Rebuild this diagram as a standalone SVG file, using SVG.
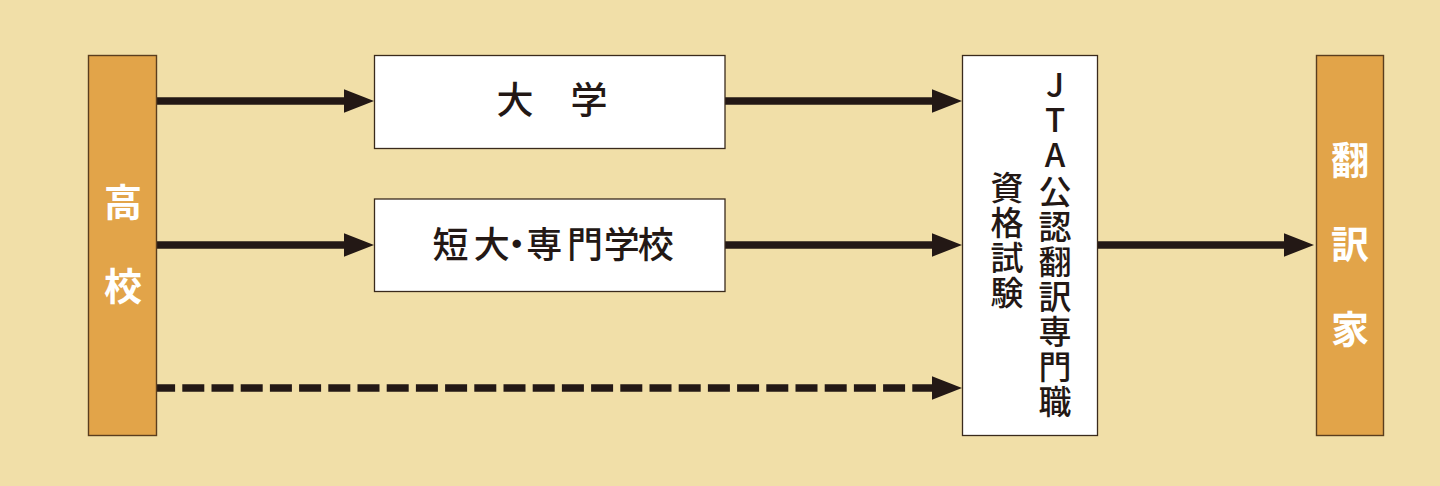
<svg xmlns="http://www.w3.org/2000/svg" width="1440" height="486" viewBox="0 0 1440 486">
<defs>
<style>
.bg{fill:#F1DFA8}
.side{fill:#E2A449;stroke:#5A3D1E;stroke-width:1.4}
.box{fill:#FFFFFF;stroke:#3A2A1C;stroke-width:1.3}
.conn{stroke:#231815;stroke-width:7.6;fill:none}
.dash{stroke-dasharray:22 7.2;stroke-dashoffset:3.9}
.lbl{font-family:"Noto Sans CJK JP","Noto Sans",sans-serif;fill:#231815;text-anchor:middle;font-weight:500}
.wlbl{font-family:"Noto Sans CJK JP","Noto Sans",sans-serif;fill:#FFFFFF;font-weight:bold;text-anchor:middle;font-size:38px}
.vt{font-size:33px}
</style>
<marker id="ah" markerUnits="userSpaceOnUse" viewBox="0 0 30 23.4" markerWidth="30" markerHeight="23.4" refX="2" refY="11.7" orient="auto">
<path d="M0,0 L30,11.7 L0,23.4 Z" fill="#231815"/>
</marker>
</defs>
<rect class="bg" x="0" y="0" width="1440" height="486"/>
<g id="connectors">
<line class="conn" x1="156" y1="101" x2="346" y2="101" marker-end="url(#ah)"/>
<line class="conn" x1="156" y1="245" x2="346" y2="245" marker-end="url(#ah)"/>
<line class="conn" x1="725" y1="101" x2="934" y2="101" marker-end="url(#ah)"/>
<line class="conn" x1="725" y1="245" x2="934" y2="245" marker-end="url(#ah)"/>
<line class="conn dash" x1="157" y1="388" x2="934" y2="388" marker-end="url(#ah)"/>
<line class="conn" x1="1097" y1="245" x2="1286" y2="245" marker-end="url(#ah)"/>
</g>
<g id="koukou">
<rect class="side" x="88.5" y="55.5" width="68" height="380"/>
<text class="wlbl"><tspan x="123" y="216">高</tspan><tspan x="123" y="300">校</tspan></text>
</g>
<g id="daigaku">
<rect class="box" x="374.5" y="55.5" width="350.5" height="93"/>
<text class="lbl" x="552" y="114" font-size="37">大　学</text>
</g>
<g id="tandai">
<rect class="box" x="374.5" y="199" width="350.5" height="92.5"/>
<text class="lbl" x="450.5 491.7 516.7 544.2 585 621.7 655.8" y="258" font-size="36">短大・専門学校</text>
</g>
<g id="jta">
<rect class="box" x="962.5" y="55.5" width="135" height="380"/>
<text class="lbl vt"><tspan x="1055" y="97">J</tspan><tspan x="1055" y="132">T</tspan><tspan x="1055" y="167">A</tspan><tspan x="1055" y="204">公</tspan><tspan x="1055" y="239">認</tspan><tspan x="1055" y="274">翻</tspan><tspan x="1055" y="309">訳</tspan><tspan x="1055" y="344">専</tspan><tspan x="1055" y="379">門</tspan><tspan x="1055" y="414">職</tspan></text>
<text class="lbl vt"><tspan x="1007" y="200">資</tspan><tspan x="1007" y="235">格</tspan><tspan x="1007" y="270">試</tspan><tspan x="1007" y="305">験</tspan></text>
</g>
<g id="honyakuka">
<rect class="side" x="1316.5" y="55.5" width="67" height="380"/>
<text class="wlbl"><tspan x="1350" y="174">翻</tspan><tspan x="1350" y="258">訳</tspan><tspan x="1350" y="343">家</tspan></text>
</g>
</svg>
